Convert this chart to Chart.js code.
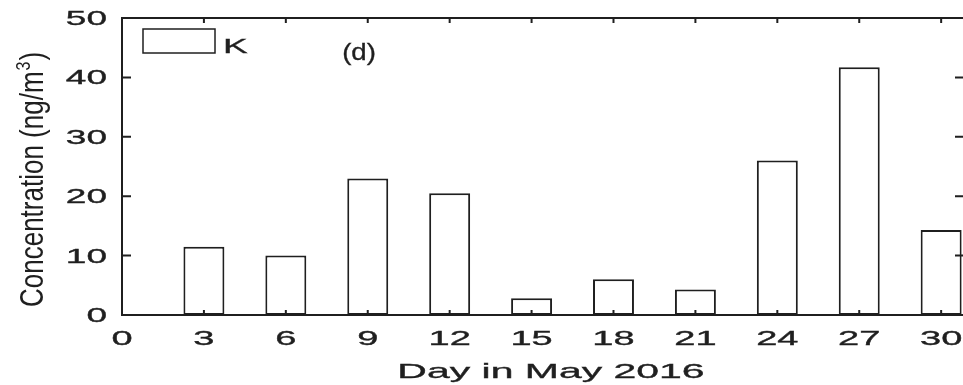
<!DOCTYPE html>
<html>
<head>
<meta charset="utf-8">
<script src="https://cdn.jsdelivr.net/npm/chart.js@4.4.1/dist/chart.umd.min.js"></script>
<style>
  html, body { margin: 0; padding: 0; background: #fff; }
  #wrap { width: 963px; height: 385px; }
</style>
</head>
<body>
<div id="wrap"><canvas id="bar-chart"></canvas></div>
<script>
const days = [3, 6, 9, 12, 15, 18, 21, 24, 27, 30];
const kValues = [11.5, 10, 23, 20.5, 2.8, 6, 4.3, 26, 41.7, 14.3];
const xTicks = [0, 3, 6, 9, 12, 15, 18, 21, 24, 27, 30];
const yTicks = [0, 10, 20, 30, 40, 50];
const seriesLabel = 'K';
const panelTag = '(d)';

const ink = '#1f1f1f';
const font = '"Liberation Sans", Arial, Helvetica, sans-serif';

// draws text squeezed/stretched horizontally, like the original figure
const wideText = (ctx, text, x, y, size, sx, align) => {
  ctx.save();
  ctx.font = size + 'px ' + font;
  ctx.fillStyle = ink;
  ctx.strokeStyle = ink;
  ctx.lineWidth = 0.35;
  ctx.textBaseline = 'alphabetic';
  ctx.translate(x, y);
  ctx.scale(sx, 1);
  ctx.textAlign = align;
  ctx.fillText(text, 0, 0);
  ctx.strokeText(text, 0, 0);
  ctx.restore();
};

const matlabAxes = {
  id: 'matlabAxes',
  afterDatasetsDraw(chart) {
    const { ctx, chartArea: a, scales } = chart;
    const xs = scales.x, ys = scales.y;
    const right = a.right + 1;

    ctx.save();
    ctx.strokeStyle = ink;
    ctx.lineWidth = 2;
    ctx.strokeRect(a.left, a.top, right - a.left, a.bottom - a.top);

    // inward ticks on all four sides
    ctx.beginPath();
    xTicks.forEach((v) => {
      const px = xs.getPixelForValue(v);
      ctx.moveTo(px, a.bottom);
      ctx.lineTo(px, a.bottom - 5);
      ctx.moveTo(px, a.top);
      ctx.lineTo(px, a.top + 5);
    });
    yTicks.forEach((v) => {
      const py = ys.getPixelForValue(v);
      ctx.moveTo(a.left, py);
      ctx.lineTo(a.left + 9, py);
      ctx.moveTo(right, py);
      ctx.lineTo(right - 9, py);
    });
    ctx.stroke();
    ctx.restore();

    // tick labels
    xTicks.forEach((v) => {
      wideText(ctx, String(v), xs.getPixelForValue(v), a.bottom + 30, 20, 1.9, 'center');
    });
    yTicks.forEach((v) => {
      wideText(ctx, String(v), 107, ys.getPixelForValue(v) + 7, 20, 1.85, 'right');
    });

    // axis titles
    wideText(ctx, 'Day in May 2016', 551, 378, 21, 1.95, 'center');

    ctx.save();
    ctx.fillStyle = ink;
    ctx.textAlign = 'left';
    ctx.textBaseline = 'alphabetic';
    ctx.translate(43, 307);
    ctx.rotate(-Math.PI / 2);
    ctx.scale(1, 1.25);
    ctx.font = '26px ' + font;
    const main = 'Concentration (ng/m';
    ctx.fillText(main, 0, 0);
    let off = ctx.measureText(main).width;
    ctx.font = '16px ' + font;
    ctx.fillText('3', off + 1, -10.5);
    off += ctx.measureText('3').width + 2;
    ctx.font = '26px ' + font;
    ctx.fillText(')', off, 0);
    ctx.restore();

    // legend box and panel tag
    ctx.save();
    ctx.fillStyle = '#fff';
    ctx.strokeStyle = ink;
    ctx.lineWidth = 1.5;
    ctx.fillRect(143, 29, 72, 24);
    ctx.strokeRect(143, 29, 72, 24);
    ctx.restore();
    wideText(ctx, chart.data.datasets[0].label, 223, 53, 20, 1.85, 'left');
    wideText(ctx, panelTag, 359, 60, 24, 1.15, 'center');
  },
};

new Chart(document.getElementById('bar-chart'), {
  type: 'bar',
  data: {
    datasets: [
      {
        label: seriesLabel,
        data: days.map((d, i) => ({ x: d, y: kValues[i] })),
        backgroundColor: '#ffffff',
        borderColor: ink,
        borderWidth: 2,
        borderSkipped: false,
        barPercentage: 0.5,
        categoryPercentage: 1.0,
      },
    ],
  },
  options: {
    responsive: true,
    maintainAspectRatio: false,
    animation: false,
    layout: {
      padding: { top: 18, right: 0, left: 0, bottom: 0 },
    },
    scales: {
      x: {
        type: 'linear',
        min: 0,
        max: 30.8,
        offset: false,
        grid: { display: false, offset: false },
        border: { display: false },
        ticks: { display: false },
        afterFit: (scale) => { scale.height = 70; },
      },
      y: {
        min: 0,
        max: 50,
        grid: { display: false },
        border: { display: false },
        ticks: { display: false },
        afterFit: (scale) => { scale.width = 122; },
      },
    },
    plugins: {
      legend: { display: false },
      tooltip: { enabled: false },
    },
  },
  plugins: [matlabAxes],
});
</script>
</body>
</html>
